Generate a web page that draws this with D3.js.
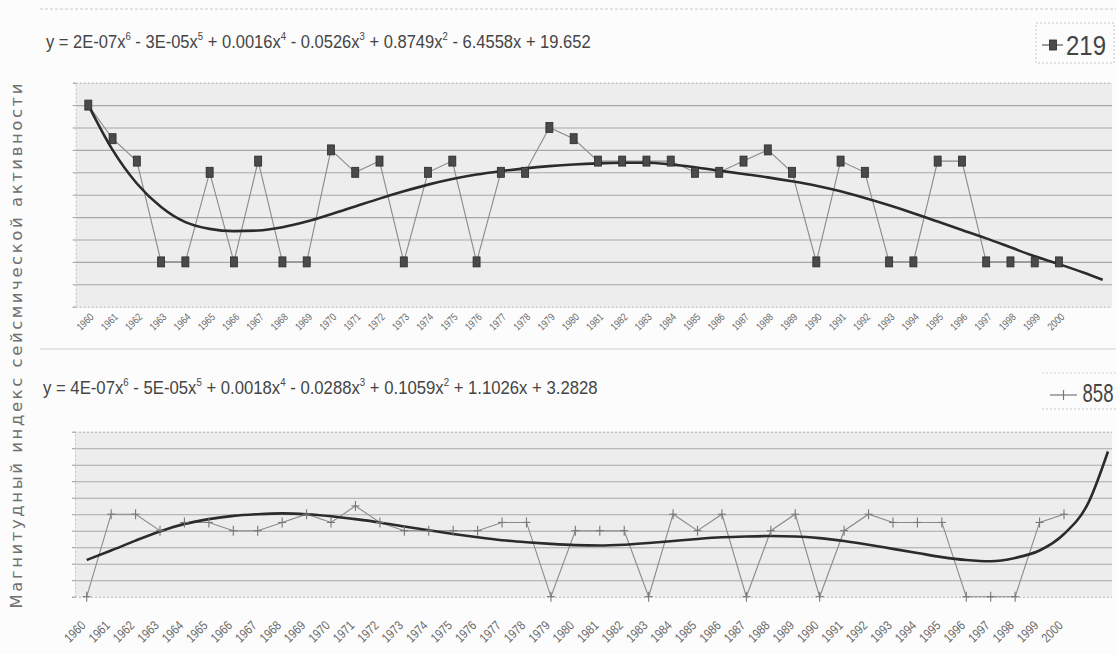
<!DOCTYPE html>
<html><head><meta charset="utf-8">
<script src="https://cdn.jsdelivr.net/npm/d3@7"></script>
<style>
body{margin:0;background:#fcfcfc;}
svg{display:block;}
</style>
</head><body>
<svg id="c" width="1116" height="654"></svg>
<script>
// ---------- data ----------
const years = ["1960","1961","1962","1963","1964","1965","1966","1967","1968","1969",
  "1970","1971","1972","1973","1974","1975","1976","1977","1978","1979",
  "1980","1981","1982","1983","1984","1985","1986","1987","1988","1989",
  "1990","1991","1992","1993","1994","1995","1996","1997","1998","1999","2000"];

const series219 = [14,11,9,0,0,8,0,9,0,0,10,8,9,0,8,9,0,8,8,12,
  11,9,9,9,9,8,8,9,10,8,0,9,8,0,0,9,9,0,0,0,0];
const series858 = [0,10,10,8,9,9,8,8,9,10,9,11,9,8,8,8,8,9,9,0,
  8,8,8,0,10,8,10,0,8,10,0,8,10,9,9,9,0,0,0,9,10];

// polynomial trend lines (category index -> value)
const trendIdx = [0,1,2,3,4,5,6,7,8,9,10,11,12,13,14,15,16,17,18,19,20,
  21,22,23,24,25,26,27,28,29,30,31,32,33,34,35,36,37,38,39,40,41,41.8];
const trend219 = [14.0,10.0,7.0,4.9,3.55,2.95,2.75,2.8,3.1,3.6,4.25,4.95,5.65,6.3,6.9,7.4,7.8,8.1,8.35,8.55,8.7,
  8.8,8.85,8.85,8.7,8.45,8.15,7.85,7.55,7.2,6.8,6.3,5.7,5.05,4.35,3.6,2.85,2.1,1.3,0.5,-0.2,-0.95,-1.6];
const trend858 = [4.45,5.6,6.8,7.9,8.8,9.4,9.8,10.0,10.1,10.0,9.75,9.4,9.0,8.5,8.05,7.6,7.2,6.85,6.6,6.4,6.25,
  6.2,6.3,6.5,6.75,7.0,7.2,7.3,7.35,7.3,7.1,6.75,6.3,5.8,5.3,4.8,4.45,4.3,4.7,5.6,7.6,11.4,17.6];

const yTicks219 = [-4,-2,0,2,4,6,8,10,12,14,16];
const yTicks858 = [0,2,4,6,8,10,12,14,16,18,20];

const eq219 = [["y = 2E-07x",""],["6","sup"],[" - 3E-05x",""],["5","sup"],[" + 0.0016x",""],["4","sup"],
  [" - 0.0526x",""],["3","sup"],[" + 0.8749x",""],["2","sup"],[" - 6.4558x + 19.652",""]];
const eq858 = [["y = 4E-07x",""],["6","sup"],[" - 5E-05x",""],["5","sup"],[" + 0.0018x",""],["4","sup"],
  [" - 0.0288x",""],["3","sup"],[" + 0.1059x",""],["2","sup"],[" + 1.1026x + 3.2828",""]];

const legend219 = "219";
const legend858 = "858";
const yTitle = "Магнитудный индекс сейсмической активности";

// ---------- drawing ----------
const svg = d3.select("#c");
const SANS = "'Liberation Sans','Arial',sans-serif";

function fitWidth(sel, x0, y0, targetW){
  const w = sel.node().getBBox().width;
  sel.attr("transform", `translate(${x0},${y0}) scale(${targetW / w},1)`);
}

function equation(parts, x0, baseY, targetW){
  const t = svg.append("text").attr("x",0).attr("y",0)
    .attr("font-family", SANS).attr("font-size", 19).attr("fill", "#454545");
  let raised = false;
  parts.forEach(([s, kind]) => {
    const ts = t.append("tspan").text(s);
    if (kind === "sup") { ts.attr("font-size", 11).attr("dy", -8); raised = true; }
    else if (raised) { ts.attr("dy", 8); raised = false; }
  });
  fitWidth(t, x0, baseY, targetW);
}

// separators (scan page lines)
svg.append("line").attr("x1",40).attr("x2",1116).attr("y1",9).attr("y2",9)
  .attr("stroke","#c8c8c8").attr("stroke-dasharray","3,2");
svg.append("line").attr("x1",40).attr("x2",1116).attr("y1",349).attr("y2",349)
  .attr("stroke","#cfcfcf");

function panel(cfg){
  const {top,bottom,left,right,yDomain,yTicks,xStart,xEnd,values,trend,marker,lab} = cfg;
  const y = d3.scaleLinear().domain(yDomain).range([bottom, top]);
  const x = d3.scaleLinear().domain([0, years.length-1]).range([xStart, xEnd]);
  const g = svg.append("g");
  g.append("rect").attr("x",left).attr("y",top).attr("width",right-left).attr("height",bottom-top)
    .attr("fill","#ededed");
  // gridlines
  const grid = g.append("g").attr("transform",`translate(${left},0)`)
    .call(d3.axisLeft(y).tickValues(yTicks).tickSize(-(right-left)).tickFormat(""));
  grid.select(".domain").remove();
  grid.selectAll(".tick line").attr("stroke","#a9a9a9").attr("stroke-width",1.1);
  grid.selectAll(".tick").filter(d => d===yDomain[0] || d===yDomain[1]).select("line")
    .attr("stroke","#b0b0b0").attr("stroke-dasharray","2,2");
  // small outside ticks
  const tk = g.append("g").attr("transform",`translate(${left},0)`)
    .call(d3.axisLeft(y).tickValues(yTicks).tickSize(3).tickFormat(""));
  tk.select(".domain").attr("stroke","#c4c4c4").attr("stroke-dasharray","2,2");
  tk.selectAll(".tick line").attr("stroke","#999");
  // x labels
  const xa = g.append("g").attr("transform",`translate(0,${lab.y})`)
    .call(d3.axisBottom(x).tickValues(d3.range(years.length)).tickFormat(i => years[i]).tickSize(0));
  xa.select(".domain").remove();
  xa.selectAll("text")
    .attr("transform", `translate(${lab.dx},0) rotate(-45)`)
    .attr("x",0).attr("y",0).attr("dy","0.35em")
    .attr("text-anchor","end")
    .attr("font-family", SANS).attr("font-size", lab.size).attr("fill","#6a6a6a")
    .attr("textLength", lab.len).attr("lengthAdjust","spacingAndGlyphs");
  // data line
  const line = d3.line().x((d,i)=>x(i)).y(d=>y(d));
  g.append("path").datum(values).attr("d",line).attr("fill","none")
    .attr("stroke","#8a8a8a").attr("stroke-width",1.1);
  // trend
  const tline = d3.line().x((d,i)=>x(trendIdx[i])).y(d=>y(d)).curve(d3.curveMonotoneX);
  g.append("path").datum(trend).attr("d",tline).attr("fill","none")
    .attr("stroke","#2b2b2b").attr("stroke-width",2.6).attr("stroke-linejoin","round");
  // markers
  if (marker === "square") {
    g.selectAll("rect.m").data(values).enter().append("rect").attr("class","m")
      .attr("x",(d,i)=>x(i)-3.5).attr("y",d=>y(d)-5).attr("width",7).attr("height",10)
      .attr("fill","#4a4a4a").attr("stroke","#2a2a2a").attr("stroke-width",0.8);
  } else {
    const m = g.selectAll("g.m").data(values).enter().append("g").attr("class","m")
      .attr("transform",(d,i)=>`translate(${x(i)},${y(d)})`);
    m.append("line").attr("x1",0).attr("x2",0).attr("y1",-5).attr("y2",5)
      .attr("stroke","#777").attr("stroke-width",1.1);
    m.append("line").attr("x1",-4).attr("x2",4).attr("y1",0).attr("y2",0)
      .attr("stroke","#777").attr("stroke-width",1.1);
  }
}

panel({top:82.7,bottom:306.7,left:75.7,right:1112,yDomain:[-4,16],yTicks:yTicks219,
  xStart:88.3,xEnd:1059,values:series219,trend:trend219,marker:"square",
  lab:{y:315,dx:3,size:10.5,len:19}});
panel({top:431.7,bottom:596.7,left:75,right:1112,yDomain:[0,20],yTicks:yTicks858,
  xStart:86.7,xEnd:1064,values:series858,trend:trend858,marker:"plus",
  lab:{y:623,dx:-4,size:13,len:24}});

equation(eq219, 46, 48, 545);
equation(eq858, 43, 394, 555);

// legend 1
svg.append("rect").attr("x",1036).attr("y",23).attr("width",78).attr("height",40)
  .attr("fill","none").attr("stroke","#c4c4c4").attr("stroke-dasharray","2,2");
svg.append("line").attr("x1",1042).attr("x2",1063).attr("y1",45).attr("y2",45)
  .attr("stroke","#666").attr("stroke-width",1.3);
svg.append("rect").attr("x",1049.5).attr("y",40).attr("width",7).attr("height",10)
  .attr("fill","#4a4a4a").attr("stroke","#2a2a2a").attr("stroke-width",0.8);
const l1 = svg.append("text").attr("font-family",SANS)
  .attr("font-size",27).attr("fill","#444").text(legend219);
fitWidth(l1, 1066, 55, 40);

// legend 2
svg.append("line").attr("x1",1042).attr("x2",1116).attr("y1",409).attr("y2",409)
  .attr("stroke","#c4c4c4").attr("stroke-dasharray","2,2");
svg.append("line").attr("x1",1042).attr("x2",1116).attr("y1",373).attr("y2",373)
  .attr("stroke","#d4d4d4").attr("stroke-dasharray","2,2");
svg.append("line").attr("x1",1050).attr("x2",1077).attr("y1",395).attr("y2",395)
  .attr("stroke","#777").attr("stroke-width",1.2);
svg.append("line").attr("x1",1063.5).attr("x2",1063.5).attr("y1",390).attr("y2",400)
  .attr("stroke","#777").attr("stroke-width",1.2);
const l2 = svg.append("text").attr("font-family",SANS)
  .attr("font-size",26).attr("fill","#444").text(legend858);
fitWidth(l2, 1082.5, 402, 31);

// y-axis title
svg.append("text")
  .attr("transform","translate(22,346) rotate(-90)")
  .attr("text-anchor","middle")
  .attr("font-family","'DejaVu Sans','Open Sans',sans-serif")
  .attr("font-size",16.5).attr("fill","#707070")
  .attr("textLength",525).attr("lengthAdjust","spacing")
  .text(yTitle);
</script>
</body></html>
